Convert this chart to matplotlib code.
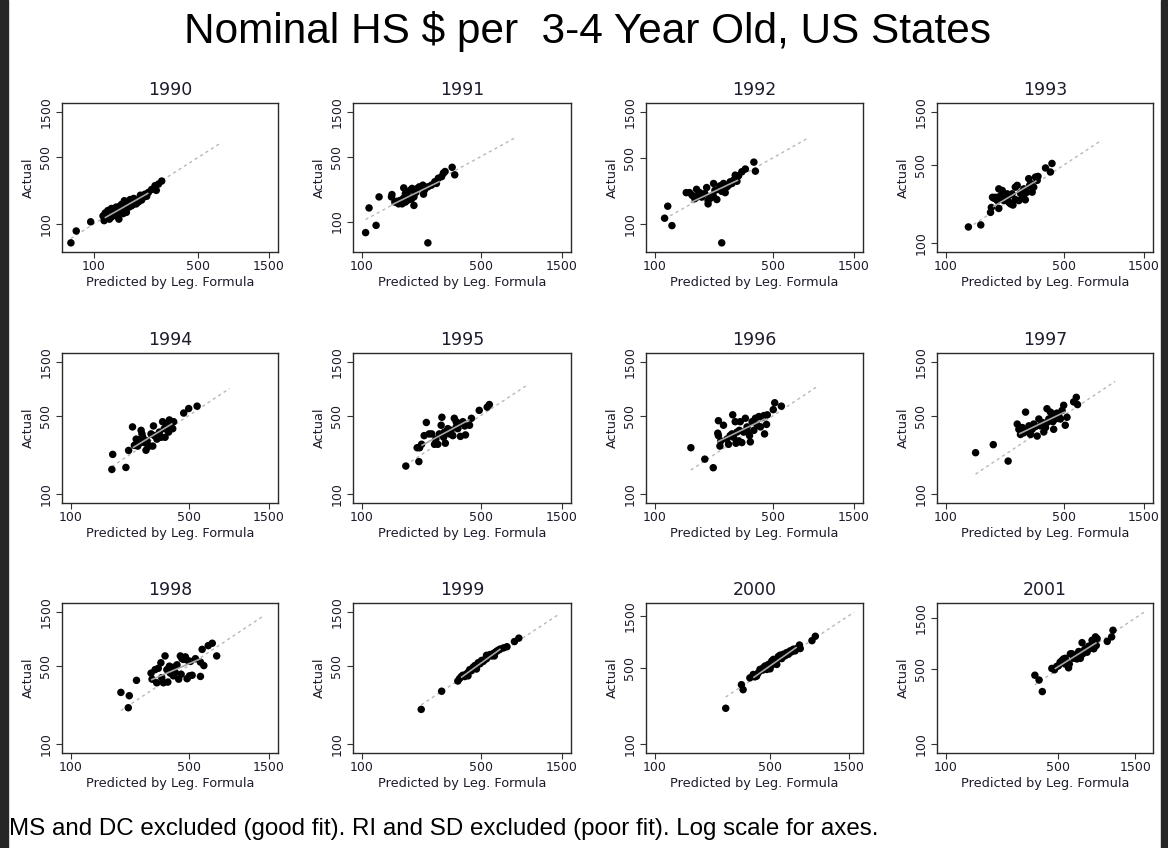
import numpy as np
import matplotlib
matplotlib.use("Agg")
import matplotlib.pyplot as plt
from matplotlib.ticker import FixedLocator, NullLocator, FixedFormatter
from matplotlib.patches import Rectangle

years = [1990, 1991, 1992, 1993, 1994, 1995, 1996, 1997, 1998, 1999, 2000, 2001]
ticks = [100, 500, 1500]
tick_labels = ["100", "500", "1500"]
# upper end of the 45-degree reference line (range of predicted incl. excluded states)
diag_hi = [710, 800, 810, 826, 873, 946, 908, 1010, 1368, 1432, 1617, 1702]

pred_1990 = [70, 76, 95, 115, 117, 119, 124, 127, 131, 131, 136, 138, 141, 145, 147, 150, 153, 157, 161, 165,
             170, 172, 175, 179, 183, 188, 192, 199, 204, 209, 214, 220, 226, 232, 244, 257, 262, 271, 285,
             140, 160, 185, 120, 133, 148, 205]
actual_1990 = [63, 84, 105, 121, 108, 130, 138, 112, 118, 145, 128, 136, 150, 125, 112, 138, 160, 128, 146, 132,
               165, 150, 180, 155, 160, 175, 162, 170, 182, 178, 190, 205, 195, 214, 230, 252, 225, 262, 282,
               122, 175, 185, 125, 142, 152, 200]

pred_1991 = [105, 110, 121, 126, 149, 150, 244, 156, 164, 168, 172, 176, 176, 180, 180, 184, 184, 188, 193, 197,
             202, 202, 207, 212, 217, 228, 230, 233, 244, 256, 268, 274, 281, 294, 301, 308, 339, 351, 160, 186, 195]
actual_1991 = [76, 140, 91, 184, 184, 195, 59, 162, 155, 169, 155, 179, 230, 200, 162, 191, 208, 176, 218, 227,
               149, 184, 205, 227, 236, 246, 197, 218, 236, 246, 268, 257, 292, 304, 332, 345, 383, 318, 165, 170, 174]

pred_1992 = [114, 119, 126, 248, 153, 160, 176, 180, 172, 184, 189, 202, 206, 206, 211, 216, 221, 222, 232, 237,
             242, 248, 254, 260, 266, 272, 278, 285, 291, 298, 305, 312, 326, 342, 384, 392, 197, 226, 166, 176]
actual_1992 = [116, 155, 97, 64, 215, 215, 233, 201, 186, 215, 193, 243, 178, 164, 186, 193, 198, 268, 182, 233,
               253, 222, 268, 215, 247, 257, 279, 268, 290, 328, 283, 323, 356, 380, 449, 361, 210, 227, 201, 193]

pred_1993 = [136, 161, 184, 186, 189, 193, 197, 202, 206, 206, 216, 221, 226, 231, 236, 242, 247, 250, 258, 265,
             271, 277, 284, 290, 296, 303, 310, 314, 320, 325, 332, 340, 348, 352, 390, 417, 426, 236, 211, 258, 290]
actual_1993 = [139, 145, 188, 208, 257, 252, 257, 240, 306, 204, 296, 240, 248, 276, 266, 224, 276, 219, 317, 329,
               240, 281, 266, 306, 244, 286, 378, 329, 341, 286, 317, 391, 365, 396, 472, 434, 518, 232, 266, 245, 270]

pred_1994 = [175, 177, 212, 220, 232, 238, 244, 249, 255, 261, 264, 267, 273, 279, 283, 292, 299, 306, 309, 313,
             324, 335, 343, 350, 358, 362, 371, 380, 384, 393, 402, 407, 467, 500, 561, 285, 320, 375, 249]
actual_1994 = [165, 225, 172, 244, 396, 271, 308, 303, 283, 369, 343, 320, 287, 245, 297, 267, 343, 267, 404, 331,
               308, 356, 320, 441, 382, 320, 417, 356, 457, 410, 382, 441, 527, 578, 607, 276, 326, 398, 267]

pred_1995 = [181, 216, 211, 218, 224, 232, 239, 248, 257, 267, 272, 279, 285, 292, 295, 302, 309, 320, 327, 334,
             342, 349, 358, 366, 375, 379, 392, 402, 406, 429, 440, 489, 545, 561, 305, 358]
actual_1995 = [177, 194, 258, 258, 277, 331, 434, 343, 343, 277, 308, 277, 343, 410, 483, 320, 283, 382, 343, 369,
               331, 473, 441, 382, 425, 326, 441, 404, 336, 410, 473, 557, 595, 628, 356, 396]

pred_1996 = [163, 197, 221, 237, 235, 237, 242, 245, 254, 266, 272, 285, 288, 291, 298, 301, 305, 312, 315, 319,
             326, 342, 350, 353, 362, 366, 375, 384, 392, 402, 411, 420, 430, 440, 456, 444, 461, 500, 510, 558,
             334, 278]
actual_1996 = [258, 204, 171, 450, 348, 331, 267, 297, 410, 308, 277, 343, 508, 320, 441, 283, 356, 297, 369, 441,
               287, 473, 396, 356, 331, 291, 441, 369, 473, 410, 490, 396, 481, 500, 417, 343, 508, 565, 651, 607,
               356, 331]

pred_1997 = [150, 191, 234, 265, 271, 277, 284, 297, 290, 304, 311, 318, 325, 332, 340, 348, 356, 364, 373, 381,
             390, 398, 408, 417, 426, 436, 446, 456, 467, 478, 500, 511, 523, 573, 594, 604, 489, 431, 398]
actual_1997 = [233, 275, 196, 420, 377, 339, 391, 537, 351, 364, 405, 339, 377, 420, 399, 328, 466, 405, 434, 357,
               391, 576, 466, 537, 519, 377, 466, 526, 500, 466, 618, 410, 483, 663, 728, 627, 556, 441, 434]

pred_1998 = [198, 222, 219, 245, 299, 316, 323, 330, 342, 346, 354, 362, 371, 376, 384, 389, 397, 406, 416, 426,
             436, 446, 451, 456, 467, 478, 489, 494, 506, 512, 524, 548, 587, 601, 615, 587, 653, 690, 733, 303, 406]
actual_1998 = [288, 269, 210, 369, 428, 460, 351, 473, 530, 390, 351, 610, 460, 356, 494, 428, 460, 405, 434, 508,
               378, 610, 418, 576, 568, 598, 382, 556, 405, 545, 410, 576, 537, 698, 500, 400, 754, 792, 610, 378, 483]

pred_1999 = [223, 294, 366, 375, 384, 392, 401, 411, 420, 430, 440, 450, 461, 471, 482, 494, 505, 516, 528, 540,
             553, 566, 579, 592, 606, 620, 635, 650, 680, 712, 788, 836, 420, 471, 540, 600]
actual_1999 = [203, 295, 364, 383, 399, 410, 399, 420, 434, 460, 450, 483, 500, 494, 530, 519, 556, 545, 568, 576,
               610, 627, 610, 641, 655, 673, 688, 703, 720, 737, 820, 880, 405, 466, 618, 610]

pred_2000 = [269, 335, 343, 377, 395, 404, 414, 424, 434, 450, 455, 466, 477, 488, 500, 512, 518, 524, 536, 549,
             561, 575, 588, 602, 616, 631, 646, 662, 677, 693, 710, 727, 754, 762, 898, 941, 488, 549]
actual_2000 = [212, 349, 314, 403, 433, 412, 418, 448, 482, 475, 500, 518, 482, 536, 488, 576, 536, 596, 556, 536,
               633, 651, 606, 665, 643, 689, 665, 714, 700, 740, 714, 750, 808, 750, 886, 972, 500, 596]

pred_2001 = [357, 379, 397, 455, 472, 488, 500, 512, 525, 538, 551, 564, 578, 584, 593, 607, 621, 636, 652, 668,
             684, 701, 708, 718, 735, 753, 771, 790, 809, 829, 849, 859, 869, 1005, 1070, 1091, 551, 636]
actual_2001 = [438, 395, 308, 507, 492, 530, 537, 579, 600, 622, 630, 585, 514, 557, 694, 694, 630, 670, 622, 730,
               630, 883, 694, 745, 774, 719, 820, 785, 929, 774, 1000, 832, 964, 908, 1000, 1154, 557, 660]

preds = [pred_1990, pred_1991, pred_1992, pred_1993, pred_1994, pred_1995,
         pred_1996, pred_1997, pred_1998, pred_1999, pred_2000, pred_2001]
actuals = [actual_1990, actual_1991, actual_1992, actual_1993, actual_1994, actual_1995,
           actual_1996, actual_1997, actual_1998, actual_1999, actual_2000, actual_2001]

W, H = 1168, 848
fig = plt.figure(figsize=(W / 100, H / 100), dpi=100)
fig.patch.set_facecolor("white")

# dark screen edges left and right
fig.patches.append(Rectangle((0, 0), 8 / W, 1, transform=fig.transFigure, color="#262626", zorder=0))
fig.patches.append(Rectangle((1 - 7 / W, 0), 7 / W, 1, transform=fig.transFigure, color="#262626", zorder=0))

col_px = [(62, 278), (353, 571), (646, 863), (937, 1153)]
row_px = [(103, 252), (353, 503), (603, 753)]
txt = "#1c1c2c"


def log_limits(lo, hi, pad):
    a, b = np.log10(lo), np.log10(hi)
    p = (b - a) * pad
    return 10 ** (a - p), 10 ** (b + p)


for i, yr in enumerate(years):
    x = np.array(preds[i], float)
    y = np.array(actuals[i], float)
    l, r = col_px[i % 4]
    t, b = row_px[i // 4]
    ax = fig.add_axes([l / W, 1 - b / H, (r - l) / W, (b - t) / H])
    ax.set_xscale("log")
    ax.set_yscale("log")

    d_lo, d_hi = x.min(), diag_hi[i]
    ax.plot([d_lo, d_hi], [d_lo, d_hi], color="#b8b8b8", lw=1.0, ls=(0, (2.2, 2.4)), zorder=1)

    # fitted line through the bulk of the points
    k, c = np.polyfit(np.log10(x), np.log10(y), 1)
    xf = np.array([np.percentile(x, 12), np.percentile(x, 88)])
    ax.plot(xf, 10 ** (c + k * np.log10(xf)), color="#a6a6a6", lw=1.2, zorder=3)

    ax.scatter(x, y, s=29, color="black", edgecolors="none", zorder=2)

    ax.set_xlim(*log_limits(min(100, x.min()), max(1500, x.max(), d_hi), 0.045))
    ax.set_ylim(*log_limits(min(100, y.min()), max(1500, y.max(), d_hi), 0.07))

    for axis in (ax.xaxis, ax.yaxis):
        axis.set_major_locator(FixedLocator(ticks))
        axis.set_major_formatter(FixedFormatter(tick_labels))
        axis.set_minor_locator(NullLocator())
    ax.tick_params(direction="out", length=4, width=0.8, color="#333333",
                   labelsize=9, labelcolor=txt, pad=2)
    ax.tick_params(axis="y", labelrotation=90, pad=3)
    for lab in ax.get_yticklabels():
        lab.set_va("center")
    for s in ax.spines.values():
        s.set_color("#2a2a2a")
        s.set_linewidth(1.0)

    ax.set_title(str(yr), fontsize=12.5, color=txt, pad=6)
    ax.set_xlabel("Predicted by Leg. Formula", fontsize=9.3, color=txt, labelpad=2)
    ax.set_ylabel("Actual", fontsize=9.3, color=txt, labelpad=3)

fig.text(587 / W, 1 - 31 / H, "Nominal HS $ per  3-4 Year Old, US States",
         ha="center", va="center", fontsize=30.5, family="Liberation Sans", color="black")
fig.text(9 / W, 1 - 829 / H,
         "MS and DC excluded (good fit). RI and SD excluded (poor fit). Log scale for axes.",
         ha="left", va="center", fontsize=17.4, family="Liberation Sans", color="black")

fig.savefig("out.png", dpi=100)
